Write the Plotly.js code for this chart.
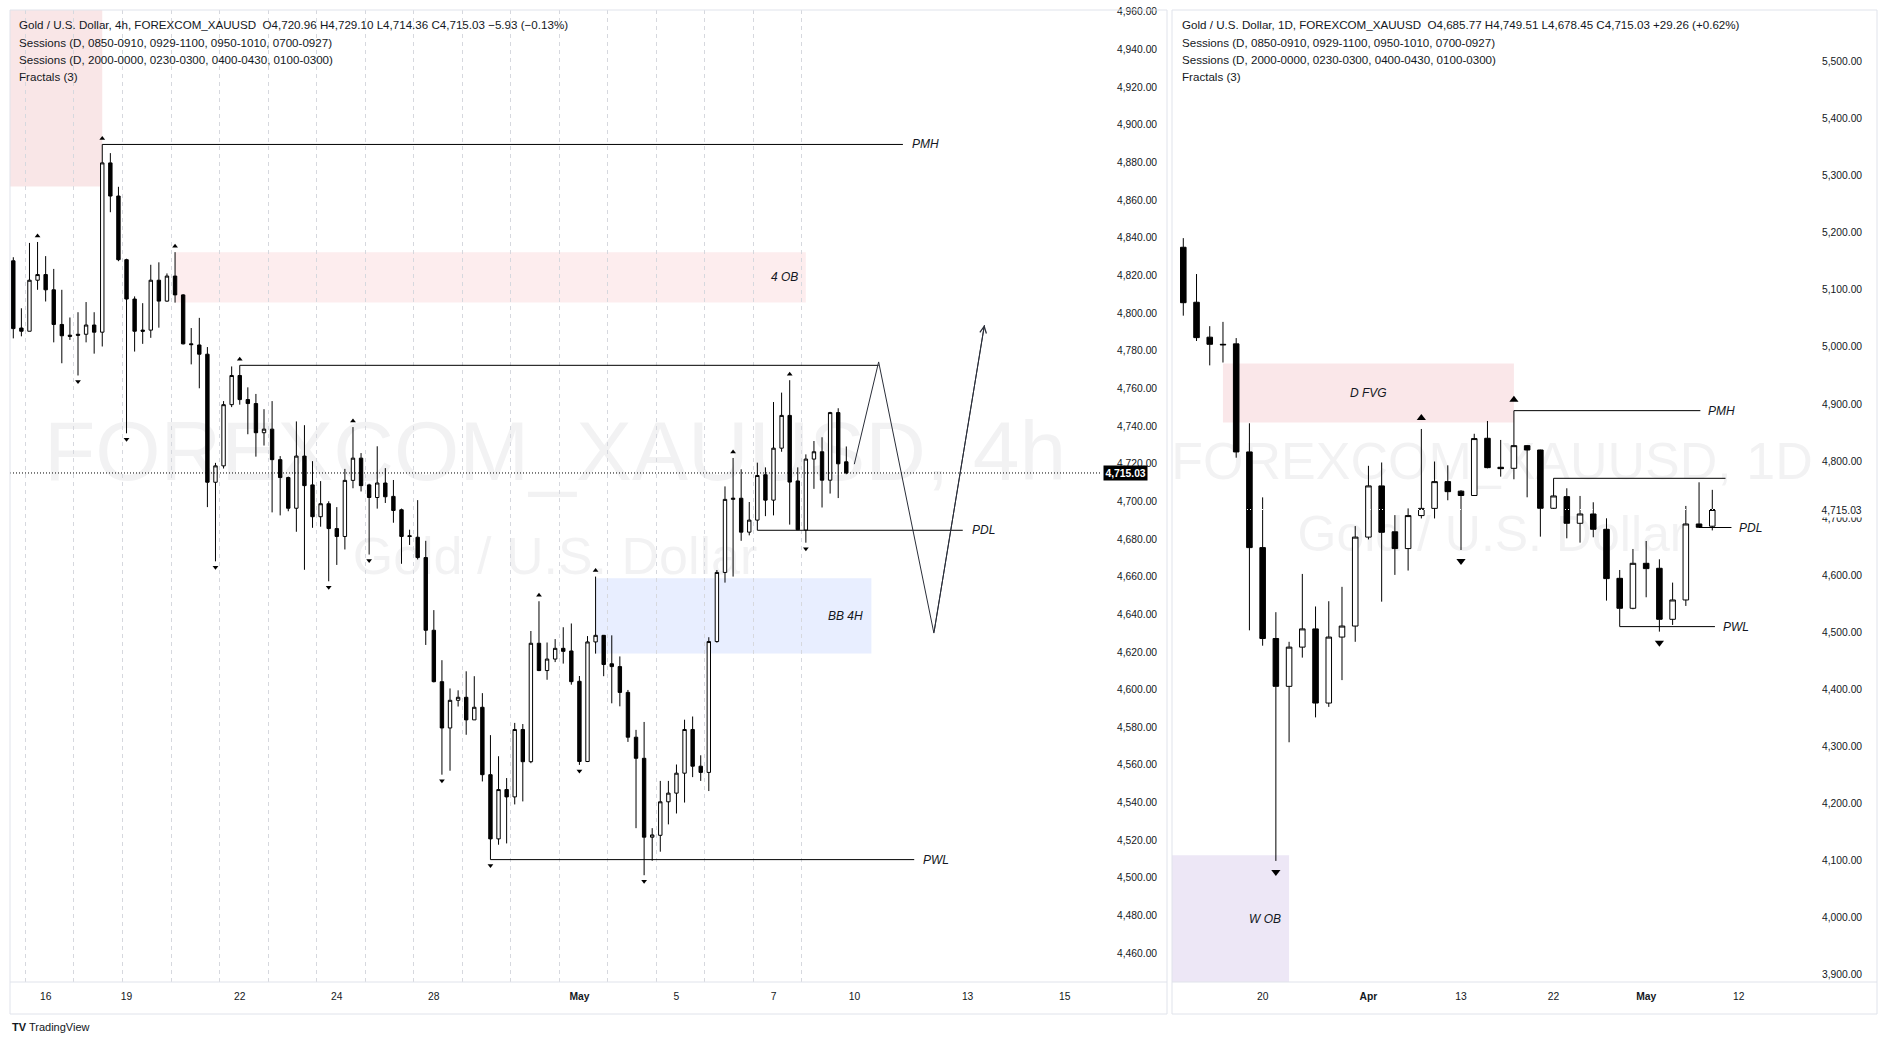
<!DOCTYPE html>
<html><head><meta charset="utf-8">
<script src="https://cdn.plot.ly/plotly-3.0.1.min.js"></script>
<style>html,body{margin:0;padding:0;background:#fff;overflow:hidden}#chart{width:1887px;height:1044px}</style>
</head><body><div id="chart"></div>
<script>
// ===================== 4h chart (left) =====================
const openL = [4827.7,4792.0,4790.3,4817.4,4820.4,4812.3,4793.9,4788.2,4788.7,4788.7,4793.6,4789.8,4879.7,4862.1,4828.3,4807.4,4790.9,4790.9,4817.4,4806.3,4819.6,4809.6,4783.6,4783.0,4778.1,4710.1,4718.8,4751.3,4766.8,4754.0,4751.9,4736.4,4738.3,4722.1,4712.6,4696.3,4724.0,4708.7,4691.8,4698.7,4685.5,4681.3,4711.1,4722.9,4708.7,4702.0,4709.7,4702.6,4695.5,4681.7,4680.9,4670.1,4631.5,4604.2,4579.6,4594.3,4595.9,4583.9,4590.6,4554.8,4520.7,4546.9,4543.0,4578.8,4561.7,4624.6,4610.1,4616.2,4621.9,4620.5,4604.4,4561.8,4625.3,4628.8,4613.7,4612.2,4598.5,4574.7,4563.5,4521.6,4522.6,4540.4,4545.0,4555.6,4578.8,4559.3,4556.0,4625.5,4662.2,4701.0,4701.6,4683.6,4690.0,4714.1,4700.6,4728.2,4745.6,4710.8,4684.7,4722.4,4726.3,4711.2,4747.1,4720.96];
const highL = [4829.6,4802.5,4837.2,4837.7,4830.2,4823.4,4812.3,4797.6,4800.4,4805.8,4800.4,4889.5,4884.9,4867.0,4828.8,4808.8,4805.2,4825.6,4826.9,4821.0,4832.3,4810.0,4792.0,4797.4,4781.9,4720.4,4753.2,4771.6,4772.2,4760.5,4757.0,4748.9,4753.2,4724.0,4713.1,4742.4,4740.4,4721.3,4710.7,4700.0,4696.9,4717.2,4739.4,4725.6,4709.3,4729.2,4717.6,4711.3,4696.1,4684.9,4700.6,4679.0,4642.2,4615.6,4600.6,4599.6,4609.7,4607.1,4598.1,4575.8,4564.6,4553.0,4582.3,4581.7,4631.1,4646.9,4625.0,4626.8,4633.1,4635.1,4607.2,4628.4,4660.0,4629.0,4628.8,4617.6,4599.8,4578.6,4582.8,4526.4,4551.5,4551.5,4560.2,4584.0,4585.7,4565.1,4627.8,4663.5,4707.9,4723.0,4717.0,4699.6,4720.5,4718.0,4752.7,4757.7,4764.3,4718.0,4724.9,4732.0,4734.0,4747.5,4749.4,4729.10];
const lowL = [4786.5,4787.6,4790.3,4812.3,4806.1,4784.4,4773.3,4785.7,4766.8,4784.4,4778.4,4782.2,4853.5,4827.5,4736.1,4779.5,4783.6,4786.8,4792.2,4806.0,4805.5,4783.3,4772.7,4760.0,4696.9,4668.1,4717.4,4750.0,4751.3,4735.6,4723.7,4729.6,4694.1,4692.5,4694.7,4683.8,4663.6,4685.9,4686.5,4657.5,4666.2,4674.4,4706.9,4705.2,4671.7,4696.1,4699.1,4688.6,4666.8,4676.8,4669.1,4623.7,4603.8,4554.8,4556.9,4591.0,4576.0,4583.9,4551.2,4509.7,4517.6,4518.3,4539.0,4540.6,4560.9,4609.8,4605.2,4614.6,4613.8,4602.6,4560.0,4561.5,4619.1,4607.1,4592.7,4591.1,4572.2,4526.4,4501.4,4509.1,4513.9,4528.4,4534.2,4540.0,4553.5,4551.5,4546.1,4624.9,4656.8,4660.0,4679.0,4681.9,4684.6,4692.1,4692.5,4726.3,4687.6,4684.7,4678.0,4706.6,4696.7,4704.1,4701.7,4714.36];
const closeL = [4791.7,4790.3,4817.4,4820.4,4812.3,4793.9,4787.9,4787.6,4788.2,4793.6,4789.8,4879.7,4862.1,4828.3,4807.4,4790.3,4790.3,4817.4,4806.3,4819.6,4809.6,4783.6,4783.2,4778.1,4710.1,4718.8,4751.3,4766.8,4754.0,4751.9,4736.4,4738.3,4722.1,4712.6,4696.3,4724.0,4708.3,4691.8,4698.7,4685.5,4681.3,4711.1,4722.9,4708.3,4702.0,4709.7,4702.4,4695.1,4681.3,4681.3,4670.1,4631.5,4604.2,4579.6,4594.3,4595.9,4583.9,4590.6,4554.8,4520.7,4546.9,4543.0,4578.8,4561.7,4624.6,4610.1,4616.2,4621.9,4620.3,4604.2,4561.8,4625.3,4628.8,4613.3,4612.2,4598.5,4574.7,4563.5,4521.6,4522.8,4540.4,4545.0,4555.6,4578.8,4559.3,4556.0,4625.5,4662.2,4701.0,4701.6,4683.6,4690.0,4713.7,4700.6,4728.2,4745.6,4710.2,4684.9,4722.4,4726.3,4711.2,4747.1,4719.9,4715.03];
const fracUpL = [3, 11, 20, 28, 42, 65, 72, 89, 96];
const fracDnL = [8, 14, 25, 39, 44, 53, 59, 70, 78, 98];
const timeTicksL = [4, 14, 28, 40, 52, 70, 82, 94, 104, 118, 130];
const timeLabelsL = ['16', '19', '22', '24', '28', '<b>May</b>', '5', '7', '10', '13', '15'];
const priceTicksL = [4460,4480,4500,4520,4540,4560,4580,4600,4620,4640,4660,4680,4700,4720,4740,4760,4780,4800,4820,4840,4860,4880,4900,4920,4940,4960];
// zones (left)
const zoneNameL = ['', '4 OB', 'BB 4H'];
const zoneX0L = [-2, 20, 72];
const zoneX1L = [11, 98, 106.1];
const zoneTopL = [5000, 4832.2, 4659.1];
const zoneBotL = [4867.1, 4805.6, 4619.1];
// level lines (left), price taken from the anchor candle
const levelNameL = ['PMH', '', 'PDL', 'PWL'];
const levelFromL = [11, 28, 92, 59];
const levelToL = [110.0, 107.0, 117.4, 111.4];
const levelSideL = ['high', 'high', 'low', 'low'];
// projected path (left)
const projXL = [103.99, 107.0, 113.83, 120.08];
const projYL = [4719.7, 4774.0, 4630.0, 4793.6];

// ===================== 1D chart (right) =====================
const openR = [5174.4,5078.1,5016.9,5004.4,5005.2,4815.9,4648.3,4489.1,4405.3,4474.0,4505.9,4376.0,4491.6,4510.9,4666.7,4756.4,4676.0,4646.6,4704.4,4717.0,4763.9,4747.2,4739.6,4839.8,4789.0,4787.2,4826.9,4819.3,4717.2,4737.6,4690.9,4707.2,4680.4,4594.5,4542.0,4620.8,4612.1,4522.7,4556.6,4689.7,4685.77];
const highR = [5190.4,5127.5,5036.2,5043.7,5015.3,4866.1,4736.3,4535.2,4483.3,4602.2,4545.2,4554.4,4579.6,4686.0,4791.6,4797.4,4705.2,4717.0,4856.1,4799.1,4792.4,4748.8,4847.7,4870.1,4836.9,4888.2,4827.5,4819.8,4769.7,4752.2,4738.8,4727.7,4699.6,4609.1,4645.9,4659.9,4627.8,4587.0,4721.3,4762.7,4749.51];
const lowR = [5054.6,5010.2,4967.5,4972.5,4805.8,4503.4,4476.5,4099.5,4307.3,4455.6,4350.9,4369.3,4416.2,4483.3,4662.6,4553.6,4600.5,4608.1,4699.4,4699.4,4731.2,4644.1,4739.6,4787.2,4772.6,4768.0,4736.4,4667.5,4715.4,4664.6,4657.0,4666.4,4555.4,4509.9,4540.3,4561.3,4501.1,4512.8,4546.1,4683.5,4678.45];
const closeR = [5077.3,5016.1,5004.4,5003.6,4815.9,4648.3,4489.1,4405.3,4474.0,4505.9,4376.0,4491.6,4510.9,4666.7,4756.4,4675.1,4646.6,4704.4,4717.0,4763.9,4746.3,4739.6,4839.3,4788.4,4786.6,4826.9,4819.3,4717.2,4738.8,4690.9,4707.2,4680.4,4594.0,4542.0,4620.8,4611.5,4522.7,4556.6,4689.7,4683.9,4715.03];
const fracUpR = [18, 25];
const fracDnR = [7, 21, 36];
const timeTicksR = [6, 14, 21, 28, 35, 42];
const timeLabelsR = ['20', '<b>Apr</b>', '13', '22', '<b>May</b>', '12'];
const priceTicksR = [3900,4000,4100,4200,4300,4400,4500,4600,4700,4800,4900,5000,5100,5200,5300,5400,5500];
const zoneNameR = ['D FVG', 'W OB'];
const zoneX0R = [3, -2];
const zoneX1R = [25, 8];
const zoneTopR = [4970.9, 4109.6];
const zoneBotR = [4867.5, 3700];
const levelNameR = ['PMH', '', 'PDL', 'PWL'];
const levelFromR = [25, 28, 39, 33];
const levelToR = [39.1, 41.0, 41.45, 40.2];
const levelSideR = ['high', 'high', 'low', 'low'];

const lastPrice = 4715.03;
const headerL = ['Gold / U.S. Dollar, 4h, FOREXCOM_XAUUSD\u00a0 O4,720.96 H4,729.10 L4,714.36 C4,715.03 \u22125.93 (\u22120.13%)',
  'Sessions (D, 0850-0910, 0929-1100, 0950-1010, 0700-0927)',
  'Sessions (D, 2000-0000, 0230-0300, 0400-0430, 0100-0300)',
  'Fractals (3)'];
const headerR = ['Gold / U.S. Dollar, 1D, FOREXCOM_XAUUSD\u00a0 O4,685.77 H4,749.51 L4,678.45 C4,715.03 +29.26 (+0.62%)',
  'Sessions (D, 0850-0910, 0929-1100, 0950-1010, 0700-0927)',
  'Sessions (D, 2000-0000, 0230-0300, 0400-0430, 0100-0300)',
  'Fractals (3)'];

// ===================== layout geometry =====================
const W = 1887, H = 1044;
const FONT = 'Liberation Sans, Arial, sans-serif';
const TXT = '#131722';
const BORDER = '#E0E3EB';
const plotTop = 10, plotBot = 982;
const domY = [(H - plotBot) / H, (H - plotTop) / H];
const xRangeL = [-0.408, 134.37], yRangeL = [4444.7, 4960.9];
const xRangeR = [-0.854, 47.54], yRangeR = [3887.4, 5590.0];
const pxPerL = (plotBot - plotTop) / (yRangeL[1] - yRangeL[0]);
const pxPerR = (plotBot - plotTop) / (yRangeR[1] - yRangeR[0]);
const px = v => v / W, py = v => 1 - v / H;

const idxL = openL.map((_, i) => i);
const idxR = openR.map((_, i) => i);

function candle(x, o, h, l, c, xa, ya) {
  return {type: 'candlestick', x: x, open: o, high: h, low: l, close: c, xaxis: xa, yaxis: ya,
    increasing: {line: {color: '#000', width: 1}, fillcolor: '#ffffff'},
    decreasing: {line: {color: '#000', width: 1}, fillcolor: '#000000'},
    whiskerwidth: 0, hoverinfo: 'skip', showlegend: false};
}
const traces = [];
function levels(names, from, to, side, hi, lo, xa, ya) {
  names.forEach((n, i) => {
    const p = side[i] === 'high' ? hi[from[i]] : lo[from[i]];
    traces.push({type: 'scatter', mode: 'lines', x: [from[i], to[i]], y: [p, p], xaxis: xa, yaxis: ya,
      line: {color: '#000', width: 1}, hoverinfo: 'skip', showlegend: false});
  });
}
traces.push(candle(idxL, openL, highL, lowL, closeL, 'x', 'y'));
traces.push(candle(idxR, openR, highR, lowR, closeR, 'x2', 'y2'));
levels(levelNameL, levelFromL, levelToL, levelSideL, highL, lowL, 'x', 'y');
levels(levelNameR, levelFromR, levelToR, levelSideR, highR, lowR, 'x2', 'y2');
traces.push({type: 'scatter', mode: 'lines', x: projXL, y: projYL, xaxis: 'x', yaxis: 'y',
  line: {color: '#2a2e39', width: 1}, hoverinfo: 'skip', showlegend: false});
function fractals(up, dn, hi, lo, xa, ya, off, size) {
  traces.push({type: 'scatter', mode: 'markers', x: up, y: up.map(i => hi[i] + off), xaxis: xa, yaxis: ya,
    marker: {symbol: 'triangle-up', size: size, color: '#000'}, hoverinfo: 'skip', showlegend: false});
  traces.push({type: 'scatter', mode: 'markers', x: dn, y: dn.map(i => lo[i] - off), xaxis: xa, yaxis: ya,
    marker: {symbol: 'triangle-down', size: size, color: '#000'}, hoverinfo: 'skip', showlegend: false});
}
fractals(fracUpL, fracDnL, highL, lowL, 'x', 'y', 6 / pxPerL, 5);
fractals(fracUpR, fracDnR, highR, lowR, 'x2', 'y2', 11 / pxPerR, 8);

// ===================== shapes =====================
const shapes = [];
const zoneColL = ['rgba(210,60,70,0.13)', 'rgba(235,60,70,0.09)', 'rgba(41,98,255,0.11)'];
const zoneColR = ['rgba(210,60,70,0.12)', 'rgba(103,58,183,0.12)'];
zoneNameL.forEach((n, i) => shapes.push({type: 'rect', xref: 'x', yref: 'y', x0: zoneX0L[i], x1: zoneX1L[i],
  y0: zoneBotL[i], y1: zoneTopL[i], fillcolor: zoneColL[i], line: {width: 0}, layer: 'below'}));
zoneNameR.forEach((n, i) => shapes.push({type: 'rect', xref: 'x2', yref: 'y2', x0: zoneX0R[i], x1: zoneX1R[i],
  y0: zoneBotR[i], y1: zoneTopR[i], fillcolor: zoneColR[i], line: {width: 0}, layer: 'below'}));
function wm(x0, x1, cy, text, size) {
  shapes.push({type: 'rect', xref: 'paper', yref: 'paper', x0: px(x0), x1: px(x1), y0: py(cy + 50), y1: py(cy - 50),
    line: {width: 0}, fillcolor: 'rgba(0,0,0,0)', layer: 'below',
    label: {text: text, textposition: 'middle center', font: {family: FONT, size: size, color: 'rgba(19,23,34,0.055)'}}});
}
wm(10, 1100, 443, 'FOREXCOM_XAUUSD, 4h', 84);
wm(10, 1100, 551, 'Gold / U.S. Dollar', 52);
wm(1172, 1812, 456, 'FOREXCOM_XAUUSD, 1D', 52);
wm(1172, 1812, 529, 'Gold / U.S. Dollar', 50);
shapes.push({type: 'line', xref: 'paper', yref: 'y', x0: px(10), x1: px(1100), y0: lastPrice, y1: lastPrice,
  line: {color: '#000', width: 1, dash: '1px,2px'}, layer: 'above'});
shapes.push({type: 'line', xref: 'paper', yref: 'y2', x0: px(1172), x1: px(1812), y0: lastPrice, y1: lastPrice,
  line: {color: '#ffffff', width: 1, dash: '1px,2px'}, layer: 'above'});
[[10, 1167], [1172, 1877]].forEach(([a, b]) => {
  shapes.push({type: 'rect', xref: 'paper', yref: 'paper', x0: px(a), x1: px(b), y0: py(1014), y1: py(10),
    line: {color: BORDER, width: 1}, fillcolor: 'rgba(0,0,0,0)', layer: 'above'});
  shapes.push({type: 'line', xref: 'paper', yref: 'paper', x0: px(a), x1: px(b), y0: py(982), y1: py(982),
    line: {color: BORDER, width: 1}, layer: 'above'});
});

// ===================== annotations =====================
const ann = [];
const lblFont = {family: FONT, size: 12, color: TXT};
function zoneLabels(names, x0, x1, top, bot, yr, xa, ya, align) {
  names.forEach((n, i) => {
    if (!n) return;
    const t = Math.min(top[i], yr[1]), b = Math.max(bot[i], yr[0]);
    const centered = align[i] === 'center';
    ann.push({xref: xa, yref: ya, x: centered ? (x0[i] + x1[i]) / 2 : x1[i], y: (t + b) / 2,
      xanchor: centered ? 'center' : 'right', xshift: centered ? 0 : -6, yanchor: 'middle',
      text: '<i>' + n + '</i>', showarrow: false, font: lblFont});
  });
}
zoneLabels(zoneNameL, zoneX0L, zoneX1L, zoneTopL, zoneBotL, yRangeL, 'x', 'y', ['', 'right', 'right']);
zoneLabels(zoneNameR, zoneX0R, zoneX1R, zoneTopR, zoneBotR, yRangeR, 'x2', 'y2', ['center', 'right']);
function levelLabels(names, from, to, side, hi, lo, xa, ya, shift) {
  names.forEach((n, i) => {
    if (!n) return;
    const p = side[i] === 'high' ? hi[from[i]] : lo[from[i]];
    ann.push({xref: xa, yref: ya, x: to[i], y: p, xanchor: 'left', xshift: shift, yanchor: 'middle',
      text: '<i>' + n + '</i>', showarrow: false, font: lblFont});
  });
}
levelLabels(levelNameL, levelFromL, levelToL, levelSideL, highL, lowL, 'x', 'y', 7);
levelLabels(levelNameR, levelFromR, levelToR, levelSideR, highR, lowR, 'x2', 'y2', 6);
const nP = projXL.length;
ann.push({xref: 'x', yref: 'y', axref: 'x', ayref: 'y', x: projXL[nP - 1], y: projYL[nP - 1],
  ax: projXL[nP - 2], ay: projYL[nP - 2], text: '', showarrow: true, arrowhead: 5, arrowsize: 1.3,
  arrowwidth: 1, arrowcolor: '#2a2e39', standoff: 0});
const hdrY = [25, 42.5, 59.5, 76.5];
headerL.forEach((t, i) => ann.push({xref: 'paper', yref: 'paper', x: px(17), y: py(hdrY[i]), xanchor: 'left', yanchor: 'middle',
  text: t, showarrow: false, font: {family: FONT, size: 11.6, color: TXT}}));
headerR.forEach((t, i) => ann.push({xref: 'paper', yref: 'paper', x: px(1180), y: py(hdrY[i]), xanchor: 'left', yanchor: 'middle',
  text: t, showarrow: false, font: {family: FONT, size: 11.6, color: TXT}}));
ann.push({xref: 'paper', yref: 'y', x: px(1103), y: lastPrice, xanchor: 'left', yanchor: 'middle',
  text: '<b>4,715.03</b>', showarrow: false, bgcolor: '#000', borderpad: 1.5, font: {family: FONT, size: 10.3, color: '#fff'}});
ann.push({xref: 'paper', yref: 'y2', x: px(1819), y: lastPrice, xanchor: 'left', yanchor: 'middle',
  text: '4,715.03', showarrow: false, bgcolor: '#fff', borderpad: 1.5, font: {family: FONT, size: 10.3, color: TXT}});
ann.push({xref: 'paper', yref: 'paper', x: px(10), y: py(1027), xanchor: 'left', yanchor: 'middle',
  text: '<b>TV</b> TradingView', showarrow: false, font: {family: FONT, size: 11, color: TXT}});

const axBase = {showgrid: false, zeroline: false, showline: false, ticks: '', fixedrange: true,
  tickfont: {family: FONT, size: 10.3, color: TXT}};
const gridVals = [];
for (let v = 1.5; v <= 98; v += 6) gridVals.push(v);

const layout = {
  width: W, height: H, margin: {l: 0, r: 0, t: 0, b: 0}, paper_bgcolor: '#fff', plot_bgcolor: '#fff',
  showlegend: false, hovermode: false, boxgap: 0.4, dragmode: false,
  xaxis: Object.assign({}, axBase, {domain: [px(10), px(1100)], range: xRangeL, anchor: 'y',
    tickmode: 'array', tickvals: timeTicksL, ticktext: timeLabelsL, ticklabelstandoff: 7,
    rangeslider: {visible: false},
    minor: {tickmode: 'array', tickvals: gridVals, showgrid: true, gridcolor: '#D6D8DE', griddash: '4px,4px', gridwidth: 1, ticks: ''}}),
  yaxis: Object.assign({}, axBase, {domain: domY, range: yRangeL, anchor: 'x', side: 'right',
    tickmode: 'array', tickvals: priceTicksL, tickformat: ',.2f', ticklabelstandoff: 16}),
  xaxis2: Object.assign({}, axBase, {domain: [px(1172), px(1812)], range: xRangeR, anchor: 'y2',
    tickmode: 'array', tickvals: timeTicksR, ticktext: timeLabelsR, ticklabelstandoff: 7,
    rangeslider: {visible: false}}),
  yaxis2: Object.assign({}, axBase, {domain: domY, range: yRangeR, anchor: 'x2', side: 'right',
    tickmode: 'array', tickvals: priceTicksR, tickformat: ',.2f', ticklabelstandoff: 9}),
  shapes: shapes, annotations: ann
};
Plotly.newPlot('chart', traces, layout, {staticPlot: true, displayModeBar: false});
</script></body></html>
